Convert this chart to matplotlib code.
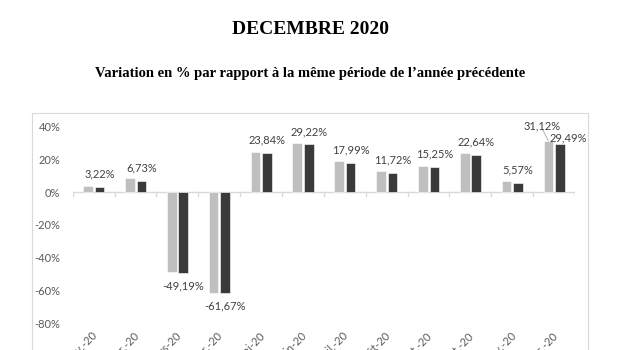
import numpy as np
import matplotlib.pyplot as plt
from matplotlib.patches import Rectangle

# Data
months = ['janv.-20', 'févr.-20', 'mars-20', 'avr.-20', 'mai-20', 'juin-20',
          'juil.-20', 'août-20', 'sept.-20', 'oct.-20', 'nov.-20', 'déc.-20']
serie_claire = [3.8, 8.5, -49.0, -61.4, 24.6, 29.9, 19.1, 13.0, 16.2, 24.2, 7.1, 31.12]
serie_foncee = [3.22, 6.73, -49.19, -61.67, 23.84, 29.22, 17.99, 11.72, 15.25, 22.64, 5.57, 29.49]
yticks = [-80, -60, -40, -20, 0, 20, 40]

def fmt(v):
    return f"{v:.2f}".replace('.', ',') + '%'

fig = plt.figure(figsize=(6.2, 3.5), dpi=100)
fig.patch.set_facecolor('white')

# titles
fig.text(0.5, 0.915, 'DECEMBRE 2020', ha='center', va='center',
         family='Liberation Serif', weight='bold', fontsize=14, color='black')
fig.text(0.5, 0.79, 'Variation en % par rapport à la même période de l\u2019année précédente',
         ha='center', va='center', family='Liberation Serif', weight='bold',
         fontsize=10.5, color='black')

# chart frame
fig.patches.append(Rectangle((32 / 620, -0.1), (588 - 32) / 620, 0.1 + (350 - 113) / 350,
                             transform=fig.transFigure, fill=False,
                             edgecolor='#D9D9D9', linewidth=0.8))

ax = fig.add_axes([72.7 / 620, (350 - 323) / 350, (575 - 72.7) / 620, (323 - 126.7) / 350])
ax.set_facecolor('none')

x = np.arange(len(months))
w = 0.23
ax.bar(x - 0.135, serie_claire, width=w, color='#BFBFBF', edgecolor='white', linewidth=0.4, zorder=2)
ax.bar(x + 0.14, serie_foncee, width=w, color='#3A3A3A', edgecolor='white', linewidth=0.4, zorder=2)

ax.set_xlim(-0.5, len(months) - 0.5)
ax.set_ylim(-80, 40)
ax.set_yticks(yticks)
ax.set_yticklabels([f"{t}%" for t in yticks])

for s in ['top', 'right', 'left', 'bottom']:
    ax.spines[s].set_visible(False)
ax.axhline(0, color='#D9D9D9', linewidth=1, zorder=1)

ax.tick_params(axis='y', length=0, pad=9, labelsize=8, labelcolor='#595959')
ax.set_xticks(x + 0.05)
ax.set_xticklabels(months, rotation=45, ha='right', va='center', rotation_mode='anchor',
                   fontsize=8, color='#595959', family='Lato')
ax.tick_params(axis='x', length=0, pad=8)
for lab in ax.get_yticklabels():
    lab.set_family('Lato')

# boundary tick marks on the zero line
for b in np.arange(-0.5, len(months), 1):
    ax.plot([b, b], [0, -2.5], color='#D9D9D9', linewidth=1, zorder=1)

# data labels (dark series)
for i, v in enumerate(serie_foncee[:-1]):
    if v >= 0:
        ax.text(i + 0.14, v + 4.5, fmt(v), ha='center', va='bottom',
                fontsize=8, color='#404040', family='Lato')
    else:
        ax.text(i + 0.14, v - 4.5, fmt(v), ha='center', va='top',
                fontsize=8, color='#404040', family='Lato')

# last group: both labels
i = len(months) - 1
ax.text(i - 0.28, 40.3, fmt(serie_claire[i]), ha='center', va='center',
        fontsize=8, color='#404040', family='Lato')
ax.plot([i - 0.27, i - 0.14], [38.0, serie_claire[i] + 0.4], color='#A6A6A6', linewidth=0.6)
ax.text(i + 0.33, 33.2, fmt(serie_foncee[i]), ha='center', va='center',
        fontsize=8, color='#404040', family='Lato')

fig.savefig('out.png', dpi=100)
